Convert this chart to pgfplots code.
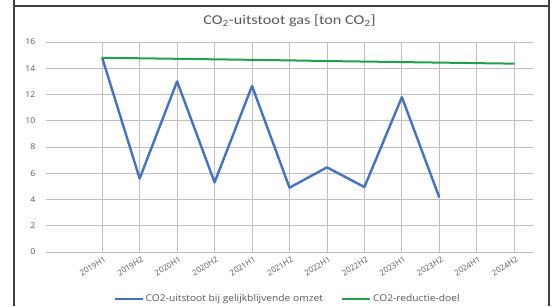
\documentclass[border=0pt]{standalone}
\usepackage{pgfplots}
\pgfplotsset{compat=1.18}
\usepackage{fontspec}
\setmainfont{Carlito}[FakeStretch=1.2]
\newfontfamily\osans{Open Sans}[FakeStretch=1.1]
\newfontfamily\osansplain{Open Sans}
\definecolor{txt}{HTML}{595959}
\definecolor{grid}{HTML}{D9D9D9}
\definecolor{cblue}{HTML}{4472C4}
\definecolor{cgreen}{HTML}{1FA04C}
\begin{document}
\begin{tikzpicture}[x=1pt,y=1pt]
\useasboundingbox (0,0) rectangle (555,306);
\fill[white] (0,0) rectangle (555,306);
\draw[line width=1.3pt, color=black!75] (14,306) -- (14,300) -- (549,300) -- (549,306);
\draw[line width=1.3pt, color=black!75] (14,0) -- (14,306);
\draw[line width=1.3pt, color=black!75] (549,0) -- (549,306);
\begin{axis}[
  at={(46pt,54pt)}, anchor=south west,
  scale only axis, width=487pt, height=210pt,
  xmin=-1.5, xmax=11.5, ymin=0, ymax=16,
  ytick={0,2,...,16},
  xtick={0,...,11},
  xticklabels={2019H1,2019H2,2020H1,2020H2,2021H1,2021H2,2022H1,2022H2,2023H1,2023H2,2024H1,2024H2},
  x tick label style={rotate=32, anchor=north east, font=\osansplain\fontsize{8}{9}\selectfont, text=txt, inner sep=1pt},
  y tick label style={font=\osans\fontsize{8}{9}\selectfont, text=txt},
  /pgf/number format/assume math mode=true,
  axis line style={draw=none},
  tick style={draw=none},
  ymajorgrids, major grid style={grid, line width=0.8pt},
  yticklabel style={xshift=-7pt},
  xticklabel style={yshift=-3pt},
  title={\textcolor{txt}{CO\textsubscript{2}-uitstoot gas [ton CO\textsubscript{2}]}},
  title style={font=\fontsize{13.5}{15}\selectfont, at={(axis description cs:0.5,1.0)}, anchor=center, yshift=15pt},
  legend style={at={(axis description cs:0.496,-0.224)}, anchor=center, draw=none, fill=none,
     font=\osans\fontsize{9.3}{10}\selectfont, text=txt, legend columns=2,
     /tikz/every even column/.append style={column sep=16pt},
     /tikz/every odd column/.append style={inner xsep=0pt}},
  legend image code/.code={\draw[#1, line width=2.2pt] (0,0) -- (28pt,0);},
]
\addplot[cblue, line width=2.4pt, line join=round] coordinates {
 (0,14.8) (1,5.6) (2,13.0) (3,5.3) (4,12.65) (5,4.9) (6,6.45) (7,4.95) (8,11.8) (9,4.15)};
\addlegendentry{CO2-uitstoot bij gelijkblijvende omzet}
\addplot[cgreen, line width=2pt] coordinates {
 (0,14.80) (1,14.76) (2,14.72) (3,14.68) (4,14.64) (5,14.60) (6,14.55) (7,14.51) (8,14.47) (9,14.43) (10,14.39) (11,14.35)};
\addlegendentry{CO2-reductie-doel}
\end{axis}
\end{tikzpicture}
\end{document}
